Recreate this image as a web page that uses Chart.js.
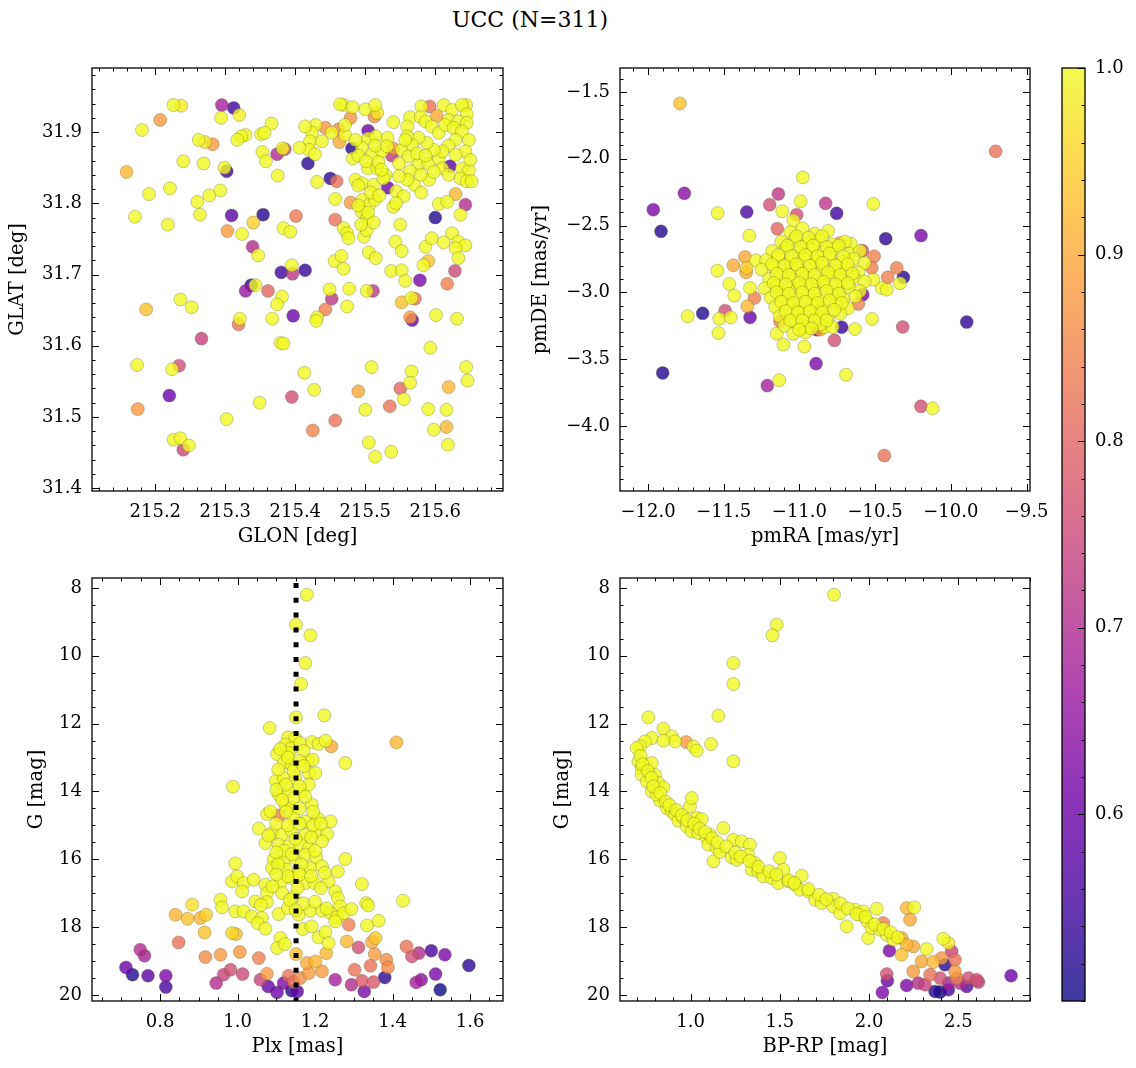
<!DOCTYPE html>
<html>
<head>
<meta charset="utf-8">
<script src="https://cdn.jsdelivr.net/npm/chart.js@4.4.1/dist/chart.umd.min.js"></script>
<style>
  body { margin: 0; background: #fff; width: 1136px; height: 1068px; position: relative; overflow: hidden; }
  canvas { position: absolute; left: 0; top: 0; }
  #title { position: absolute; left: 0; top: 8px; width: 1060px; text-align: center;
           font-family: 'DejaVu Serif', serif; font-size: 22px; line-height: 24px; color: #000; }
</style>
</head>
<body>
<div id="title">UCC (N=311)</div>
<canvas id="sky" width="1136" height="1068"></canvas>
<canvas id="pm" width="1136" height="1068"></canvas>
<canvas id="plx" width="1136" height="1068"></canvas>
<canvas id="cmd" width="1136" height="1068"></canvas>
<canvas id="cbar" width="1136" height="1068"></canvas>
<script>
// ---- data: [x, y, membership probability] ----
const skyRows = [
[215.226,31.938,1],[215.237,31.937,0.98],[215.295,31.938,0.68],[215.312,31.934,0.55],[215.320,31.924,0.99],[215.207,31.917,0.88],[215.181,31.903,1],[215.294,31.920,1],[215.366,31.912,1],[215.464,31.939,1],[215.469,31.938,0.99],[215.482,31.935,1],[215.500,31.932,1],[215.514,31.938,1],[215.517,31.927,0.98],[215.513,31.922,0.86],[215.479,31.920,0.87],[215.540,31.914,1],[215.580,31.936,1],[215.592,31.936,0.82],[215.612,31.938,1],[215.624,31.931,1],[215.638,31.938,1],[215.644,31.938,0.99],[215.645,31.925,1],[215.564,31.921,1],[215.579,31.921,1],[215.602,31.923,0.9],[215.619,31.917,1],[215.633,31.915,1],[215.645,31.913,1],[215.429,31.910,1],[215.443,31.906,0.87],[215.452,31.899,1],[215.462,31.904,0.86],[215.471,31.896,1],[215.463,31.886,0.9],[215.424,31.899,1],[215.421,31.887,1],[215.420,31.875,1],[215.428,31.869,1],[215.504,31.902,0.6],[215.504,31.891,1],[215.515,31.894,1],[215.532,31.892,1],[215.481,31.877,0.52],[215.495,31.878,1],[215.510,31.869,1],[215.524,31.873,1],[215.540,31.877,0.88],[215.552,31.875,1],[215.538,31.867,0.72],[215.406,31.878,1],[215.374,31.869,0.7],[215.382,31.877,1],[215.385,31.876,0.75],[215.353,31.872,1],[215.358,31.859,1],[215.329,31.896,1],[215.323,31.894,1],[215.317,31.889,1],[215.262,31.889,1],[215.271,31.886,0.98],[215.282,31.883,0.88],[215.351,31.897,1],[215.356,31.899,1],[215.240,31.859,1],[215.269,31.856,1],[215.299,31.850,1],[215.302,31.845,0.55],[215.159,31.844,0.92],[215.418,31.856,0.53],[215.482,31.863,1],[215.504,31.849,1],[215.517,31.849,1],[215.529,31.840,1],[215.548,31.856,1],[215.562,31.866,1],[215.576,31.854,1],[215.590,31.856,1],[215.605,31.863,1],[215.621,31.852,0.58],[215.638,31.849,1],[215.648,31.846,1],[215.636,31.835,1],[215.645,31.831,1],[215.375,31.839,1],[215.431,31.830,1],[215.450,31.835,0.53],[215.459,31.831,0.82],[215.486,31.833,1],[215.496,31.828,1],[215.512,31.826,1],[215.526,31.835,1],[215.532,31.822,0.6],[215.544,31.817,1],[215.555,31.810,1],[215.570,31.826,1],[215.580,31.815,1],[215.591,31.833,1],[215.191,31.813,1],[215.221,31.821,1],[215.260,31.802,1],[215.277,31.811,1],[215.293,31.818,1],[215.457,31.806,1],[215.479,31.801,0.88],[215.496,31.805,1],[215.506,31.798,1],[215.514,31.805,1],[215.540,31.795,1],[215.544,31.800,1],[215.605,31.799,1],[215.617,31.802,1],[215.629,31.813,0.92],[215.643,31.798,0.7],[215.636,31.784,1],[215.171,31.781,1],[215.218,31.770,1],[215.264,31.784,1],[215.309,31.783,0.58],[215.354,31.784,0.52],[215.401,31.782,0.83],[215.303,31.761,0.88],[215.324,31.757,1],[215.340,31.773,0.95],[215.383,31.765,1],[215.393,31.760,1],[215.457,31.777,0.82],[215.495,31.788,1],[215.502,31.779,1],[215.550,31.770,1],[215.600,31.780,0.52],[215.469,31.765,1],[215.474,31.758,1],[215.476,31.751,1],[215.498,31.753,1],[215.502,31.762,1],[215.339,31.739,0.7],[215.347,31.727,1],[215.543,31.746,1],[215.552,31.733,1],[215.586,31.739,1],[215.595,31.751,1],[215.612,31.745,1],[215.624,31.758,1],[215.633,31.746,1],[215.643,31.741,1],[215.629,31.737,1],[215.633,31.723,1],[215.505,31.731,1],[215.515,31.723,1],[215.456,31.719,1],[215.466,31.726,1],[215.469,31.708,1],[215.380,31.703,0.55],[215.395,31.713,1],[215.396,31.701,0.72],[215.414,31.706,0.54],[215.537,31.705,1],[215.552,31.706,1],[215.557,31.691,1],[215.583,31.713,1],[215.590,31.719,0.93],[215.628,31.705,0.75],[215.578,31.692,0.62],[215.617,31.687,0.84],[215.337,31.685,0.53],[215.343,31.685,1],[215.329,31.677,0.66],[215.361,31.677,0.8],[215.381,31.669,1],[215.374,31.658,1],[215.367,31.638,1],[215.449,31.679,1],[215.452,31.666,0.72],[215.477,31.680,1],[215.502,31.677,1],[215.511,31.677,0.72],[215.236,31.665,1],[215.252,31.654,1],[215.187,31.651,0.93],[215.552,31.661,0.93],[215.566,31.667,1],[215.571,31.666,0.82],[215.397,31.642,0.6],[215.431,31.640,1],[215.430,31.635,1],[215.443,31.651,0.84],[215.474,31.655,1],[215.321,31.638,1],[215.319,31.630,0.82],[215.564,31.640,0.88],[215.567,31.636,0.6],[215.601,31.643,1],[215.631,31.638,1],[215.266,31.610,0.74],[215.379,31.604,1],[215.383,31.603,1],[215.593,31.597,1],[215.174,31.573,1],[215.224,31.567,1],[215.234,31.572,0.76],[215.509,31.570,1],[215.566,31.564,1],[215.564,31.548,1],[215.550,31.540,0.8],[215.555,31.525,1],[215.644,31.570,1],[215.646,31.551,1],[215.619,31.542,0.92],[215.220,31.530,0.6],[215.413,31.562,1],[215.427,31.538,1],[215.395,31.528,0.76],[215.490,31.536,0.9],[215.175,31.511,0.88],[215.349,31.520,1],[215.500,31.510,1],[215.535,31.515,0.82],[215.590,31.511,1],[215.616,31.510,1],[215.616,31.486,0.92],[215.598,31.482,1],[215.302,31.497,1],[215.457,31.495,0.82],[215.425,31.481,0.85],[215.226,31.468,1],[215.236,31.470,1],[215.248,31.460,1],[215.240,31.454,0.75],[215.505,31.464,1],[215.514,31.444,1],[215.537,31.451,1],[215.618,31.461,1],
[215.560,31.908,1],[215.586,31.915,1],[215.595,31.908,1],[215.605,31.899,1],[215.614,31.910,1],[215.626,31.906,1],[215.638,31.901,1],[215.648,31.889,1],[215.629,31.889,1],[215.619,31.881,1],[215.610,31.873,1],[215.598,31.875,1],[215.588,31.885,1],[215.576,31.892,1],[215.567,31.882,1],[215.560,31.894,1],[215.574,31.870,1],[215.586,31.867,1],[215.643,31.873,1],[215.650,31.861,1],[215.629,31.868,1],[215.610,31.849,1],[215.598,31.844,1],[215.564,31.845,1],[215.560,31.833,1],[215.652,31.831,1],[215.619,31.840,1],[215.579,31.840,1],[215.490,31.867,1],[215.501,31.859,1],[215.519,31.858,1],[215.514,31.881,1],[215.531,31.880,1],[215.523,31.847,1],[215.490,31.825,1],[215.508,31.815,1],[215.520,31.811,1],[215.490,31.797,1],[215.504,31.787,1],[215.512,31.773,1],[215.494,31.770,1],[215.548,31.838,1],[215.557,31.889,1],[215.486,31.889,1],[215.471,31.910,1],[215.438,31.887,1],[215.414,31.908,1]
];

const pmRows = [
[-11.789,-1.585,0.93],[-9.704,-1.944,0.82],[-10.978,-2.139,1],[-11.760,-2.258,0.64],[-11.965,-2.381,0.62],[-11.914,-2.543,0.52],[-11.540,-2.406,1],[-11.348,-2.398,0.56],[-11.139,-2.263,0.72],[-11.196,-2.343,0.76],[-11.113,-2.393,1],[-10.992,-2.318,1],[-11.018,-2.418,0.76],[-11.040,-2.461,1],[-10.827,-2.333,0.72],[-10.754,-2.408,0.55],[-10.512,-2.338,1],[-11.146,-2.523,0.8],[-11.331,-2.575,1],[-10.430,-2.598,0.53],[-10.197,-2.575,0.62],[-11.542,-2.837,1],[-11.436,-2.797,0.9],[-11.359,-2.735,0.9],[-11.287,-2.760,1],[-11.348,-2.817,0.95],[-11.352,-2.850,0.9],[-11.463,-2.937,1],[-11.430,-3.024,1],[-11.326,-2.967,1],[-11.297,-3.042,0.84],[-11.491,-3.137,0.76],[-11.529,-3.197,1],[-11.454,-3.187,1],[-11.738,-3.179,1],[-11.639,-3.157,0.52],[-11.344,-3.104,0.92],[-11.326,-3.187,0.6],[-11.535,-3.304,1],[-11.903,-3.603,0.52],[-11.212,-3.698,0.68],[-11.133,-3.658,1],[-10.890,-3.533,0.62],[-10.692,-3.616,1],[-10.967,-3.406,1],[-10.769,-3.359,0.76],[-10.721,-3.261,0.54],[-10.633,-3.274,1],[-10.520,-3.199,1],[-10.318,-3.259,0.76],[-9.895,-3.222,0.53],[-10.197,-3.853,0.76],[-10.120,-3.868,1],[-10.439,-4.222,0.82],[-10.582,-3.017,0.62],[-10.611,-3.087,0.84],[-10.584,-2.688,0.76],[-10.507,-2.730,0.84],[-10.522,-2.817,0.84],[-10.357,-2.817,0.84],[-10.313,-2.887,0.52],[-10.417,-2.887,0.84],[-10.335,-2.932,1],[-10.456,-2.967,1],[-10.423,-2.980,1],[-10.512,-2.905,1],[-10.661,-2.635,1],[-10.732,-2.630,0.9],[-11.150,-3.309,1],[-11.106,-3.391,1],[-11.128,-3.217,0.84],[-10.886,-3.279,0.62],[-10.864,-3.279,0.9],[-10.985,-3.266,1],[-10.835,-3.261,1],
[-11.06,-2.55,1],[-10.98,-2.52,1],[-10.90,-2.56,1],[-10.81,-2.54,1],[-11.12,-2.62,1],[-11.03,-2.60,1],[-10.95,-2.63,1],[-10.87,-2.61,1],[-10.78,-2.64,1],[-10.70,-2.62,1],[-11.18,-2.69,1],[-11.09,-2.67,1],[-11.00,-2.70,1],[-10.92,-2.68,1],[-10.84,-2.70,1],[-10.76,-2.67,1],[-10.67,-2.71,1],[-10.60,-2.69,1],[-11.22,-2.76,1],[-11.14,-2.74,1],[-11.06,-2.77,1],[-10.97,-2.75,1],[-10.89,-2.77,1],[-10.80,-2.74,1],[-10.72,-2.77,1],[-10.64,-2.75,1],[-10.57,-2.78,1],[-11.25,-2.83,1],[-11.17,-2.81,1],[-11.09,-2.84,1],[-11.01,-2.82,1],[-10.93,-2.84,1],[-10.85,-2.81,1],[-10.77,-2.84,1],[-10.69,-2.82,1],[-10.61,-2.85,1],[-11.20,-2.90,1],[-11.12,-2.88,1],[-11.04,-2.91,1],[-10.96,-2.89,1],[-10.88,-2.91,1],[-10.80,-2.88,1],[-10.72,-2.91,1],[-10.64,-2.89,1],[-10.57,-2.92,1],[-11.23,-2.97,1],[-11.15,-2.95,1],[-11.07,-2.98,1],[-10.99,-2.96,1],[-10.91,-2.98,1],[-10.83,-2.95,1],[-10.75,-2.98,1],[-10.67,-2.96,1],[-10.60,-2.99,1],[-11.19,-3.04,1],[-11.11,-3.02,1],[-11.03,-3.05,1],[-10.95,-3.03,1],[-10.87,-3.05,1],[-10.79,-3.02,1],[-10.71,-3.05,1],[-10.63,-3.03,1],[-11.16,-3.11,1],[-11.08,-3.09,1],[-11.00,-3.12,1],[-10.92,-3.10,1],[-10.84,-3.12,1],[-10.76,-3.09,1],[-10.68,-3.12,1],[-11.13,-3.18,1],[-11.05,-3.16,1],[-10.97,-3.19,1],[-10.89,-3.17,1],[-10.81,-3.19,1],[-10.73,-3.16,1],[-11.10,-3.25,1],[-11.02,-3.23,1],[-10.94,-3.26,1],[-10.86,-3.24,1],[-10.78,-3.26,1],[-11.04,-3.31,1],[-10.96,-3.30,1],
[-11.02,-2.58,1],[-10.94,-2.59,1],[-10.85,-2.58,1],[-11.08,-2.65,1],[-10.99,-2.66,1],[-10.91,-2.65,1],[-10.82,-2.66,1],[-10.74,-2.65,1],[-11.14,-2.72,1],[-11.05,-2.73,1],[-10.96,-2.72,1],[-10.88,-2.73,1],[-10.80,-2.71,1],[-10.71,-2.73,1],[-11.18,-2.79,1],[-11.10,-2.80,1],[-11.02,-2.79,1],[-10.93,-2.80,1],[-10.85,-2.78,1],[-10.76,-2.80,1],[-10.68,-2.79,1],[-11.15,-2.86,1],[-11.07,-2.87,1],[-10.98,-2.86,1],[-10.90,-2.87,1],[-10.81,-2.85,1],[-10.73,-2.87,1],[-10.65,-2.86,1],[-11.17,-2.93,1],[-11.09,-2.94,1],[-11.00,-2.93,1],[-10.92,-2.94,1],[-10.84,-2.92,1],[-10.76,-2.94,1],[-10.68,-2.93,1],[-11.15,-3.00,1],[-11.07,-3.01,1],[-10.98,-3.00,1],[-10.90,-3.01,1],[-10.82,-2.99,1],[-10.74,-3.01,1],[-11.12,-3.07,1],[-11.04,-3.08,1],[-10.96,-3.07,1],[-10.88,-3.08,1],[-10.80,-3.06,1],[-10.72,-3.08,1],[-11.09,-3.14,1],[-11.01,-3.15,1],[-10.93,-3.14,1],[-10.85,-3.15,1],[-10.77,-3.13,1],[-11.06,-3.21,1],[-10.98,-3.21,1],[-10.90,-3.21,1],[-10.82,-3.21,1],[-11.00,-3.28,1],[-10.92,-3.27,1]
];

const plxRows = [
[1.179,8.197,1],[1.151,9.082,1],[1.188,9.396,1],[1.175,10.212,1],[1.164,10.832,1],[1.151,11.815,1],[1.224,11.756,1],[1.083,12.130,1],[1.410,12.553,0.92],[1.130,12.405,1],[1.149,12.425,1],[1.123,12.621,1],[1.140,12.720,1],[1.162,12.572,1],[1.192,12.543,1],[1.209,12.602,1],[1.227,12.503,1],[1.242,12.671,0.9],[1.278,13.162,1],[0.988,13.860,1],[1.102,12.897,1],[1.132,12.867,1],[1.182,13.093,1],[1.194,13.064,1],[1.119,13.162,1],[1.140,13.211,1],[1.099,13.683,1],[1.119,13.605,1],[1.149,13.605,1],[1.184,13.457,1],[1.201,13.457,1],[1.106,14.096,1],[1.132,13.998,1],[1.165,13.998,1],[1.184,13.801,1],[1.192,14.391,1],[1.123,14.391,1],[1.140,14.490,1],[1.108,14.706,0.84],[1.076,14.667,1],[1.085,14.588,1],[1.145,14.785,1],[1.175,14.883,1],[1.208,14.804,1],[1.240,14.883,1],[1.055,15.099,1],[1.089,15.227,1],[1.115,15.276,1],[1.140,15.178,1],[1.175,15.276,1],[1.205,15.178,1],[1.231,15.257,1],[1.072,15.522,1],[1.106,15.571,1],[1.132,15.620,1],[1.162,15.571,1],[1.184,15.670,1],[1.218,15.473,1],[1.093,16.014,1],[1.119,16.063,1],[1.149,15.965,1],[1.175,15.866,1],[1.203,15.945,1],[1.278,15.994,1],[0.994,16.122,1],[1.089,16.260,1],[1.127,16.309,1],[1.158,16.358,1],[1.188,16.260,1],[1.218,16.210,1],[1.259,16.358,1],[0.986,16.653,1],[0.999,16.505,1],[1.016,16.702,1],[1.042,16.604,1],[1.072,16.751,1],[1.111,16.702,1],[1.140,16.555,1],[1.175,16.702,1],[1.199,16.702,1],[1.235,16.653,1],[1.321,16.732,1],[1.012,16.948,1],[1.076,16.997,1],[1.115,16.997,1],[1.145,17.095,1],[1.252,16.948,1],[1.259,17.145,1],[0.956,17.194,1],[1.046,17.243,1],[1.076,17.262,1],[1.265,17.390,1],[1.332,17.292,1],[1.337,17.361,1],[1.427,17.223,1],[0.883,17.341,0.97],[0.960,17.420,1],[0.994,17.538,1],[1.016,17.538,1],[1.037,17.685,1],[1.063,17.734,1],[1.106,17.617,1],[1.130,17.440,1],[1.158,17.636,1],[1.188,17.518,1],[1.218,17.518,1],[1.240,17.587,1],[1.257,17.715,1],[1.274,17.587,1],[1.294,17.469,1],[1.252,17.833,1],[1.364,17.813,1],[1.334,17.951,1],[0.840,17.636,0.92],[0.871,17.754,0.93],[0.904,17.734,0.92],[0.919,17.636,0.95],[0.915,18.157,0.93],[0.986,18.177,0.96],[0.996,18.206,0.93],[1.052,17.882,1],[1.072,18.049,1],[1.111,18.324,1],[1.102,18.619,1],[1.122,18.501,1],[1.168,18.059,1],[1.191,17.980,1],[1.209,18.305,1],[1.227,18.148,1],[1.235,18.472,1],[1.282,18.423,0.92],[1.287,17.931,0.84],[1.347,18.442,0.9],[1.356,18.324,0.94],[1.354,18.796,0.88],[0.848,18.452,0.82],[0.749,18.668,0.7],[0.760,18.846,0.68],[0.712,19.190,0.6],[0.729,19.406,0.52],[0.769,19.436,0.58],[0.815,19.436,0.62],[0.815,19.770,0.56],[0.917,18.885,0.86],[0.956,18.816,0.88],[1.006,18.737,0.88],[1.055,18.914,0.84],[0.945,19.652,0.7],[0.964,19.406,0.74],[0.982,19.259,0.76],[1.013,19.386,0.75],[1.059,19.553,0.74],[1.076,19.377,0.88],[1.079,19.750,0.6],[1.102,19.927,0.6],[1.119,19.652,0.62],[1.132,19.436,0.82],[1.140,19.878,0.52],[1.154,19.898,0.58],[1.145,19.622,0.82],[1.151,18.796,0.93],[1.179,19.062,0.9],[1.201,19.013,0.92],[1.218,19.308,0.88],[1.184,19.357,0.88],[1.162,19.504,0.86],[1.229,18.767,0.92],[1.252,19.553,0.68],[1.294,19.701,0.7],[1.302,19.259,0.82],[1.312,18.600,0.76],[1.321,19.583,0.78],[1.343,19.141,0.82],[1.351,19.622,0.78],[1.327,19.898,0.62],[1.380,19.485,0.53],[1.384,18.964,0.86],[1.388,19.190,0.86],[1.436,18.570,0.82],[1.450,18.865,0.76],[1.468,18.767,0.7],[1.461,19.632,0.68],[1.474,19.553,0.64],[1.500,18.698,0.56],[1.535,18.816,0.62],[1.511,19.386,0.62],[1.523,19.848,0.5],[1.597,19.131,0.53],
[1.110,12.75,1],[1.170,12.80,1],[1.130,13.00,1],[1.160,13.10,1],[1.105,13.35,1],[1.145,13.40,1],[1.170,13.25,1],[1.125,13.80,1],[1.160,13.85,1],[1.100,13.95,1],[1.145,14.20,1],[1.175,14.15,1],[1.115,14.25,1],[1.195,14.60,1],[1.125,14.60,1],[1.160,14.50,1],[1.100,14.95,1],[1.130,15.00,1],[1.160,14.95,1],[1.195,15.00,1],[1.215,14.95,1],[1.080,15.30,1],[1.150,15.40,1],[1.190,15.35,1],[1.120,15.75,1],[1.140,15.85,1],[1.200,15.75,1],[1.100,15.80,1],[1.165,16.15,1],[1.105,16.15,1],[1.130,16.50,1],[1.160,16.45,1],[1.190,16.50,1],[1.100,16.45,1],[1.225,16.40,1],[1.155,16.85,1],[1.215,16.85,1],[1.090,16.80,1],[1.135,17.20,1],[1.170,17.30,1],[1.200,17.25,1],[1.060,17.35,1],[1.150,17.50,1],[1.230,17.45,1]
];

const cmdRows = [
[1.803,8.197,1],[1.482,9.082,1],[1.458,9.396,1],[1.239,10.212,1],[1.239,10.832,1],[0.763,11.815,1],[1.155,11.766,1],[0.847,12.149,1],[0.894,12.376,1],[0.912,12.523,1],[0.782,12.425,1],[0.744,12.523,1],[0.716,12.671,1],[0.697,12.720,1],[0.847,12.503,1],[0.974,12.543,0.88],[1.015,12.671,1],[1.034,12.798,1],[1.114,12.602,1],[1.239,13.113,1],[0.707,13.113,1],[0.725,13.310,1],[0.744,13.211,1],[0.782,13.162,1],[0.800,13.506,1],[0.725,13.506,1],[0.754,13.703,1],[0.819,13.752,1],[0.782,13.998,1],[0.847,13.880,1],[0.828,14.273,1],[0.810,14.096,1],[0.866,14.490,1],[0.894,14.588,1],[0.912,14.686,1],[0.931,14.863,1],[0.959,14.785,1],[0.996,14.441,1],[1.006,14.195,1],[1.034,14.785,1],[1.062,14.814,1],[0.978,15.030,1],[1.006,15.178,1],[1.043,15.227,1],[1.090,15.375,1],[1.099,15.571,1],[1.146,15.670,1],[1.108,15.276,1],[1.183,15.080,1],[1.127,16.063,1],[1.164,15.788,1],[1.230,15.945,1],[1.258,16.014,1],[1.239,15.424,1],[1.286,15.473,1],[1.332,15.571,1],[1.323,15.866,1],[1.360,16.112,1],[1.342,16.309,1],[1.379,16.358,1],[1.407,16.505,1],[1.454,16.555,1],[1.500,15.965,1],[1.519,16.309,1],[1.491,16.702,1],[1.547,16.653,1],[1.584,16.751,1],[1.622,16.486,1],[1.613,16.899,1],[1.659,16.948,1],[1.697,17.194,1],[1.734,17.292,1],[1.799,17.164,1],[1.799,17.390,1],[1.837,17.587,1],[1.874,17.980,1],[1.921,17.489,1],[1.949,17.636,1],[1.967,17.538,1],[1.990,17.833,1],[1.995,18.324,1],[2.042,17.459,1],[2.014,18.030,1],[2.061,18.079,1],[2.098,18.226,1],[2.135,18.374,1],[2.079,17.882,0.84],[2.210,17.440,0.92],[2.229,17.784,0.9],[2.253,17.420,1],[2.182,18.324,0.9],[2.210,18.521,0.92],[2.247,18.570,0.9],[2.182,18.816,0.93],[2.322,18.649,1],[2.415,18.344,1],[2.444,18.472,0.98],[2.294,19.013,0.9],[2.359,19.032,0.92],[2.406,18.914,0.88],[2.481,18.964,0.82],[2.462,18.718,0.74],[2.481,19.308,0.88],[2.490,19.504,0.84],[2.247,19.308,0.88],[2.341,19.406,0.82],[2.425,19.111,0.52],[2.397,19.504,0.76],[2.444,19.652,0.68],[2.113,18.698,0.62],[2.098,19.386,0.76],[2.102,19.583,0.6],[2.210,19.721,0.62],[2.074,19.927,0.62],[2.275,19.652,0.7],[2.313,19.701,0.74],[2.369,19.898,0.52],[2.397,19.917,0.5],[2.444,19.848,0.56],[2.546,19.750,0.58],[2.556,19.504,0.76],[2.602,19.553,0.76],[2.612,19.622,0.72],[2.509,19.652,0.7],[2.795,19.436,0.6],
[0.72,12.95,1],[0.73,13.20,1],[0.76,13.40,1],[0.78,13.60,1],[0.79,13.85,1],[0.83,14.05,1],[0.86,14.30,1],[0.88,14.40,1],[0.92,14.55,1],[0.95,14.70,1],[0.98,14.85,1],[1.02,14.95,1],[1.05,15.10,1],[1.08,15.20,1],[1.12,15.38,1],[1.15,15.50,1],[1.20,15.62,1],[1.25,15.80,1],[1.28,15.92,1],[1.33,16.05,1],[1.38,16.22,1],[1.44,16.35,1],[1.48,16.45,1],[1.55,16.62,1],[1.58,16.70,1],[1.66,16.88,1],[1.72,17.05,1],[1.76,17.18,1],[1.84,17.30,1],[1.88,17.45,1],[1.93,17.62,1],[1.98,17.70,1],[2.03,17.92,1],[2.08,18.05,1],[2.12,18.15,1],[2.16,18.30,1]
];

// ---- axis ticks ----
const glonTicks = [215.2, 215.3, 215.4, 215.5, 215.6];
const glatTicks = [31.4, 31.5, 31.6, 31.7, 31.8, 31.9];
const pmraTicks = [-12.0, -11.5, -11.0, -10.5, -10.0, -9.5];
const pmdeTicks = [-4.0, -3.5, -3.0, -2.5, -2.0, -1.5];
const plxTicks = [0.8, 1.0, 1.2, 1.4, 1.6];
const magTicks = [8, 10, 12, 14, 16, 18, 20];
const colTicks = [1.0, 1.5, 2.0, 2.5];
const probTicks = [0.6, 0.7, 0.8, 0.9, 1.0];
const plxMode = 1.151;   // dotted reference line

const P_MIN = 0.5, P_MAX = 1.0;
const TICK_FONT = { family: "'DejaVu Serif', serif", size: 18 };
const LABEL_FONT = { family: "'DejaVu Serif', serif", size: 19.5 };

// matplotlib plasma
const plasmaStops = [[13,8,135],[70,3,159],[114,1,168],[156,23,158],[189,55,134],[216,87,107],[237,121,83],[251,159,58],[253,202,38],[240,249,33]];
function plasma(t, a) {
  t = Math.max(0, Math.min(1, t));
  const f = t * 9, i = Math.min(8, Math.floor(f)), u = f - i;
  const c0 = plasmaStops[i], c1 = plasmaStops[i + 1];
  const c = c0.map((v, k) => Math.round(v + (c1[k] - v) * u));
  return `rgba(${c[0]},${c[1]},${c[2]},${a})`;
}

const fmt = d => v => v.toFixed(d).replace('-', '\u2212');

// inward ticks on all sides + frame
const frameTicks = {
  id: 'frameTicks',
  afterDraw(chart, args, o) {
    const { ctx, chartArea: a } = chart;
    ctx.save();
    ctx.strokeStyle = '#000';
    ctx.lineWidth = 1;
    const mark = (scale, step, sides) => {
      const horiz = scale.isHorizontal();
      const majors = scale.ticks.map(t => t.value);
      const list = majors.map(v => [v, 7]);
      const n0 = Math.ceil(scale.min / step - 1e-6), n1 = Math.floor(scale.max / step + 1e-6);
      for (let n = n0; n <= n1; n++) {
        const v = n * step;
        if (!majors.some(m => Math.abs(m - v) < step * 1e-3)) list.push([v, 3.5]);
      }
      ctx.beginPath();
      list.forEach(([v, len]) => {
        const p = Math.round(scale.getPixelForValue(v)) + 0.5;
        if (horiz) {
          ctx.moveTo(p, a.bottom); ctx.lineTo(p, a.bottom - len);
          ctx.moveTo(p, a.top); ctx.lineTo(p, a.top + len);
        } else {
          if (sides.includes('l')) { ctx.moveTo(a.left, p); ctx.lineTo(a.left + len, p); }
          if (sides.includes('r')) { ctx.moveTo(a.right, p); ctx.lineTo(a.right - len, p); }
        }
      });
      ctx.stroke();
    };
    if (o.xStep) mark(chart.scales.x, o.xStep, 'tb');
    mark(chart.scales.y, o.yStep, o.ySides || 'lr');
    ctx.lineWidth = 1.3;
    ctx.strokeRect(a.left, a.top, a.right - a.left, a.bottom - a.top);
    ctx.restore();
  }
};

function axis(ax, pos, size) {
  return {
    type: 'linear', position: pos, min: ax.min, max: ax.max, reverse: !!ax.reverse,
    grid: { display: false, drawTicks: false }, border: { display: false },
    ticks: { font: TICK_FONT, color: '#000', padding: pos === 'bottom' ? 10.5 : 10,
             autoSkip: false, maxRotation: 0, minRotation: 0, callback: fmt(ax.dec) },
    afterBuildTicks: s => { s.ticks = ax.ticks.map(v => ({ value: v })); },
    afterFit: s => {
      if (pos === 'bottom') { s.height = size; s.paddingLeft = 0; s.paddingRight = 0; }
      else { s.width = size; s.paddingTop = 0; s.paddingBottom = 0; }
    },
    title: { display: true, text: ax.title, font: LABEL_FONT, color: '#000', padding: 0 }
  };
}

function panel(id, frame, yw, rows, xa, ya, extra) {
  const [L, T, R, B] = frame, XH = 58;
  const pts = rows.slice().sort((a, b) => a[2] - b[2]);
  const datasets = [{
    data: pts.map(r => ({ x: r[0], y: r[1] })),
    backgroundColor: pts.map(r => plasma((r[2] - P_MIN) / (P_MAX - P_MIN), 0.8)),
    borderColor: 'rgba(80,80,40,0.5)',
    borderWidth: 0.6,
    pointRadius: 6.5,
    pointHoverRadius: 6.5
  }];
  if (extra) datasets.push(extra);
  return new Chart(document.getElementById(id), {
    type: 'scatter',
    data: { datasets },
    options: {
      responsive: false, animation: false, devicePixelRatio: 1,
      layout: { padding: { left: L - yw, top: T, right: 1136 - R, bottom: 1068 - B - XH } },
      plugins: { legend: { display: false }, tooltip: { enabled: false },
                 frameTicks: { xStep: xa.minor, yStep: ya.minor } },
      scales: { x: axis(xa, 'bottom', XH), y: axis(ya, 'left', yw) }
    },
    plugins: [frameTicks]
  });
}

panel('sky', [92, 68, 503, 491], 86, skyRows,
  { min: 215.1096, max: 215.6967, ticks: glonTicks, minor: 0.02, dec: 1, title: 'GLON [deg]' },
  { min: 31.396, max: 31.990, ticks: glatTicks, minor: 0.02, dec: 1, title: 'GLAT [deg]' });

panel('pm', [620, 68, 1030, 491], 91, pmRows,
  { min: -12.185, max: -9.477, ticks: pmraTicks, minor: 0.1, dec: 1, title: 'pmRA [mas/yr]' },
  { min: -4.487, max: -1.320, ticks: pmdeTicks, minor: 0.1, dec: 1, title: 'pmDE [mas/yr]' });

panel('plx', [92, 578, 503, 1001], 67, plxRows,
  { min: 0.6245, max: 1.685, ticks: plxTicks, minor: 0.05, dec: 1, title: 'Plx [mas]' },
  { min: 7.705, max: 20.18, ticks: magTicks, minor: 0.5, dec: 0, title: 'G [mag]', reverse: true },
  { data: [{ x: plxMode, y: 7.853 }, { x: plxMode, y: 20.18 }], showLine: true,
    borderColor: '#000', borderWidth: 5, borderDash: [5, 9.8], pointRadius: 0, order: -1 });

panel('cmd', [620, 578, 1030, 1001], 69, cmdRows,
  { min: 0.604, max: 2.901, ticks: colTicks, minor: 0.1, dec: 1, title: 'BP-RP [mag]' },
  { min: 7.705, max: 20.18, ticks: magTicks, minor: 0.5, dec: 0, title: 'G [mag]', reverse: true });

// colorbar
const cbarFill = {
  id: 'cbarFill',
  beforeDatasetsDraw(chart) {
    const { ctx, chartArea: a, scales: { y } } = chart;
    const g = ctx.createLinearGradient(0, y.getPixelForValue(P_MIN), 0, y.getPixelForValue(P_MAX));
    plasmaStops.forEach((c, i) => g.addColorStop(i / 9, `rgba(${c[0]},${c[1]},${c[2]},0.8)`));
    ctx.fillStyle = g;
    ctx.fillRect(a.left, a.top, a.right - a.left, a.bottom - a.top);
  }
};
new Chart(document.getElementById('cbar'), {
  type: 'scatter',
  data: { datasets: [{ data: [] }] },
  options: {
    responsive: false, animation: false, devicePixelRatio: 1,
    layout: { padding: { left: 1062, top: 68, right: 1136 - 1085 - 45, bottom: 67 } },
    plugins: { legend: { display: false }, tooltip: { enabled: false },
               frameTicks: { yStep: 0.02, ySides: 'r' } },
    scales: {
      x: { display: false, min: 0, max: 1 },
      y: {
        type: 'linear', position: 'right', min: P_MIN, max: P_MAX,
        grid: { display: false, drawTicks: false }, border: { display: false },
        ticks: { font: TICK_FONT, color: '#000', padding: 10, callback: fmt(1) },
        afterBuildTicks: s => { s.ticks = probTicks.map(v => ({ value: v })); },
        afterFit: s => { s.width = 45; s.paddingTop = 0; s.paddingBottom = 0; }
      }
    }
  },
  plugins: [cbarFill, frameTicks]
});
</script>
</body>
</html>
